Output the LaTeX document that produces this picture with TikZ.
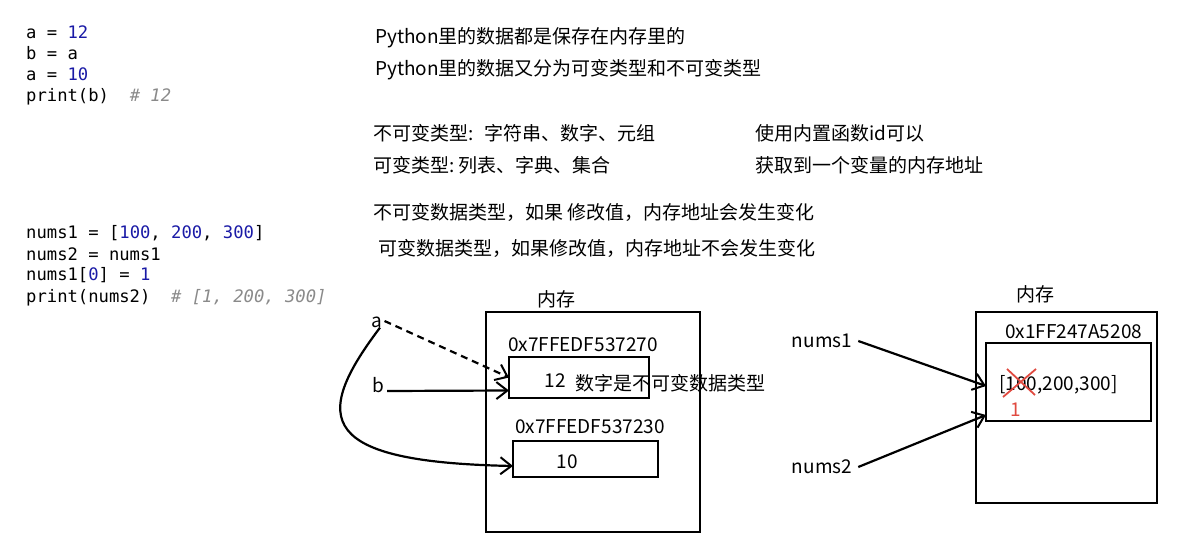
\documentclass[tikz,border=0pt]{standalone}
\usepackage{fontspec}
\setmainfont{Noto Sans CJK SC}
\newfontfamily\codefont{DejaVu Sans Mono}
\usetikzlibrary{arrows.meta,calc}
\definecolor{numblue}{HTML}{1A1AA6}
\definecolor{cmtgray}{HTML}{8A8A8A}
\definecolor{xred}{HTML}{E04A40}
\newcommand{\nb}[1]{\textcolor{numblue}{#1}}
\newcommand{\cm}[1]{\textcolor{cmtgray}{\itshape #1}}
\begin{document}
\begin{tikzpicture}[x=1pt,y=-1pt,
  code/.style={anchor=west,inner sep=0pt,font=\codefont\fontsize{17.2}{19}\selectfont},
  txt/.style={anchor=west,inner sep=0pt,font=\fontsize{19}{21}\selectfont},
  lbl/.style={inner sep=0pt,font=\fontsize{19}{21}\selectfont},
  mem/.style={draw,line width=2.4pt,inner sep=0pt,outer sep=0pt},
  arr/.style={-{Straight Barb[length=11pt,width=17pt,line width=2pt]},line width=2.2pt},
]
\useasboundingbox (0,0) rectangle (1186,543);

% code
\node[code] (c1) at (26,32) {a = \nb{12}};
\node[code] (c2) at (26,53) {b = a};
\node[code] (c3) at (26,74) {a = \nb{10}};
\node[code] (c4) at (26,97) {print(b)\ \ \cm{\#\ 12}};
\node[code] (d1) at (26,233) {nums1 = [\nb{100}, \nb{200}, \nb{300}]};
\node[code] (d2) at (26,254) {nums2 = nums1};
\node[code] (d3) at (26,275) {nums1[\nb{0}] = \nb{1}};
\node[code] (d4) at (26,298) {print(nums2)\ \ \cm{\#\ [1,\ 200,\ 300]}};

% texts
\node[txt] (t1) at (375,38) {Python里的数据都是保存在内存里的};
\node[txt] (t2) at (375,70) {Python里的数据又分为可变类型和不可变类型};
\node[txt] (t3) at (373,133) {不可变类型:\hspace{0.6em}字符串、数字、元组};
\node[txt] (t4) at (373,165) {可变类型:\hspace{0.2em}列表、字典、集合};
\node[txt] (t5) at (755,133) {使用内置函数id可以};
\node[txt] (t6) at (755,165) {获取到一个变量的内存地址};
\node[txt] (t7) at (373,212) {不可变数据类型，如果 修改值，内存地址会发生变化};
\node[txt] (t8) at (378,248) {可变数据类型，如果修改值，内存地址不会发生变化};

% left memory
\node[lbl] (memL) at (556,299) {内存};
\node[mem,minimum width=214pt,minimum height=220pt] (boxL) at (593,422) {};
\node[mem,minimum width=140pt,minimum height=41pt] (box12) at (579,377.5) {};
\node[mem,minimum width=145pt,minimum height=36pt] (box10) at (585.5,459) {};
\node[txt] (ad1) at (508,345) {0x7FFEDF537270};
\node[txt] (ad2) at (515,427) {0x7FFEDF537230};
\node[lbl] (v12) at (555,381) {12};
\node[txt] (note) at (575,383) {数字是不可变数据类型};
\node[lbl] (v10) at (567,462) {10};
\node[lbl] (a) at (377,322) {a};
\node[lbl] (b) at (378,385) {b};

\draw[arr,dash pattern=on 7pt off 5pt] ([xshift=2pt,yshift=1pt]a.east) -- (box12.west);
\draw[arr] ([xshift=3pt,yshift=-6pt]b.east) -- ([yshift=-13pt]box12.west);
\draw[arr] ([xshift=3pt]a.south) .. controls (310,420) and (320,462) .. ([yshift=-7pt]box10.west);

% right memory
\node[lbl] (memR) at (1035,294) {内存};
\node[mem,minimum width=181pt,minimum height=191pt] (boxR) at (1066.5,407.5) {};
\node[mem,minimum width=165pt,minimum height=78pt] (lst) at (1068.5,382) {};
\node[txt] (ad3) at (1005,332) {0x1FF247A5208};
\node[txt] (lv) at (999,385) {[100,200,300]};
\node[lbl,text=xred] (one) at (1016,410) {1};
\coordinate (x1) at (1007,369);
\coordinate (x2) at (1035,395);
\coordinate (x3) at (1036,369);
\coordinate (x4) at (1003,397);
\draw[xred,line width=1.8pt] (x1) -- (x2);
\draw[xred,line width=1.8pt] (x3) -- (x4);

\node[lbl] (n1) at (822,341) {nums1};
\node[lbl] (n2) at (822,467) {nums2};
\draw[arr] ([xshift=6pt]n1.east) -- ([yshift=-4pt]lst.west);
\draw[arr] ([xshift=6pt]n2.east) -- ([yshift=-33pt]lst.west);
\end{tikzpicture}
\end{document}
